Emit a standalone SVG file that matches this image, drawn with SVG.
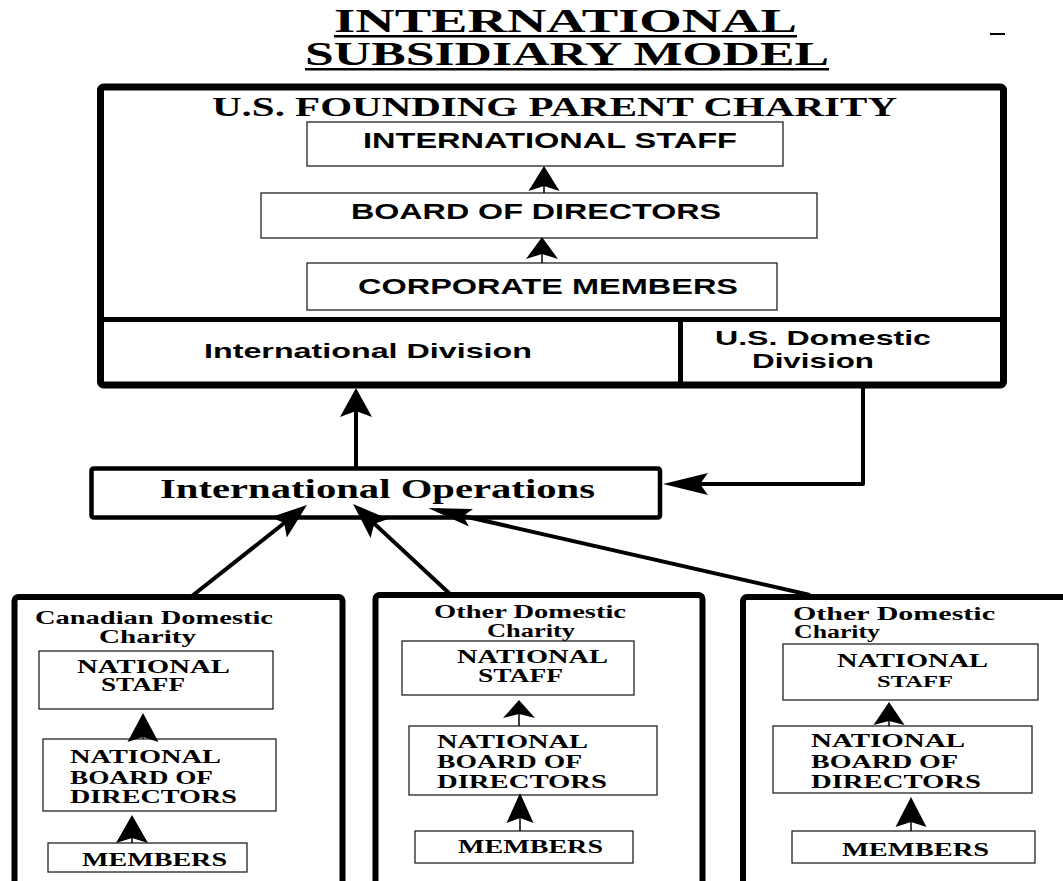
<svg xmlns="http://www.w3.org/2000/svg" width="1063" height="881" viewBox="0 0 1063 881">
<style>
.ser{font-family:"Liberation Serif","Times New Roman",serif;font-weight:bold;fill:#000}
.san{font-family:"Liberation Sans",Arial,sans-serif;font-weight:bold;fill:#000}
.lab{font-size:18px}
.box{font-size:18.5px}
.thick{fill:none;stroke:#000;stroke-width:6;stroke-linejoin:round}
.thin{fill:#fff;stroke:#222;stroke-width:1.3}
.conn{fill:none;stroke:#000;stroke-width:4}
.stem{fill:none;stroke:#000;stroke-width:1.5}
.head{fill:#000;stroke:none}
</style>
<defs>
<marker id="mBig" markerUnits="userSpaceOnUse" viewBox="-30 -17 31 34" markerWidth="31" markerHeight="34" refX="-8" refY="0" orient="auto"><path d="M0,0 L-29,-16 L-23,0 L-29,16 Z" fill="#000"/></marker>
<marker id="mHorz" markerUnits="userSpaceOnUse" viewBox="-46 -12 47 24" markerWidth="47" markerHeight="24" refX="-8" refY="0" orient="auto"><path d="M0,0 L-45,-11 L-37,0 L-45,11 Z" fill="#000"/></marker>
<marker id="mDiag" markerUnits="userSpaceOnUse" viewBox="-37 -14 38 28" markerWidth="38" markerHeight="28" refX="-8" refY="0" orient="auto"><path d="M0,0 L-36,-13 L-29,0 L-36,13 Z" fill="#000"/></marker>
<marker id="mDiag3" markerUnits="userSpaceOnUse" viewBox="-45 -10 46 20" markerWidth="46" markerHeight="20" refX="-10" refY="0" orient="auto"><path d="M0,0 L-44,-9 L-36,0 L-44,9 Z" fill="#000"/></marker>
</defs>

<g id="title">
<text class="ser" x="334" y="32" font-size="33" textLength="463" lengthAdjust="spacingAndGlyphs">INTERNATIONAL</text>
<rect x="334" y="35" width="463" height="2.5" fill="#000"/>
<text class="ser" x="305" y="65" font-size="33" textLength="524" lengthAdjust="spacingAndGlyphs">SUBSIDIARY MODEL</text>
<rect x="305" y="68" width="524" height="2.5" fill="#000"/>
<rect x="990" y="33" width="15" height="2" fill="#000"/>
</g>

<g id="parent">
<rect class="thick" x="100.5" y="87" width="903" height="298" rx="3" style="stroke-width:7"/>
<line x1="100" y1="319.5" x2="1003" y2="319.5" stroke="#000" stroke-width="5"/>
<line x1="680.5" y1="319.5" x2="680.5" y2="385" stroke="#000" stroke-width="5"/>
<text class="ser" x="212" y="116" font-size="27" textLength="685" lengthAdjust="spacingAndGlyphs">U.S. FOUNDING PARENT CHARITY</text>
</g>

<g id="intl-staff">
<rect class="thin" x="307" y="122" width="476" height="44"/>
<text class="san" x="363" y="148" font-size="22" textLength="374" lengthAdjust="spacingAndGlyphs">INTERNATIONAL STAFF</text>
</g>
<g id="board">
<rect class="thin" x="261" y="193" width="556" height="45"/>
<text class="san" x="351" y="219" font-size="22" textLength="370" lengthAdjust="spacingAndGlyphs">BOARD OF DIRECTORS</text>
</g>
<g id="corp-members">
<rect class="thin" x="307" y="263" width="470" height="47"/>
<text class="san" x="358" y="294" font-size="22" textLength="380" lengthAdjust="spacingAndGlyphs">CORPORATE MEMBERS</text>
</g>
<g id="intl-division">
<text class="san" x="204" y="358" font-size="21" textLength="328" lengthAdjust="spacingAndGlyphs">International Division</text>
</g>
<g id="us-division">
<text class="san" x="715" y="345" font-size="21" textLength="216" lengthAdjust="spacingAndGlyphs">U.S. Domestic</text>
<text class="san" x="752" y="368" font-size="21" textLength="122" lengthAdjust="spacingAndGlyphs">Division</text>
</g>

<g id="intl-operations">
<rect x="91.5" y="468.5" width="568.5" height="49" rx="2" fill="#fff" stroke="#000" stroke-width="4.5"/>
<text class="ser" x="160" y="498" font-size="28" textLength="435" lengthAdjust="spacingAndGlyphs">International Operations</text>
</g>

<g id="canadian">
<rect class="thick" x="14.5" y="597" width="328" height="292" rx="4"/>
<text class="ser lab" x="35" y="623.5" textLength="238" lengthAdjust="spacingAndGlyphs">Canadian Domestic</text>
<text class="ser lab" x="99" y="642.5" textLength="97" lengthAdjust="spacingAndGlyphs">Charity</text>
<rect class="thin" x="39" y="651" width="234" height="58"/>
<text class="ser box" x="77" y="673" textLength="153" lengthAdjust="spacingAndGlyphs">NATIONAL</text>
<text class="ser box" x="101" y="691" textLength="84" lengthAdjust="spacingAndGlyphs">STAFF</text>
<rect class="thin" x="43" y="739" width="233" height="72"/>
<text class="ser box" x="70" y="763" textLength="151" lengthAdjust="spacingAndGlyphs">NATIONAL</text>
<text class="ser box" x="70" y="784" textLength="143" lengthAdjust="spacingAndGlyphs">BOARD OF</text>
<text class="ser box" x="70" y="803" textLength="167" lengthAdjust="spacingAndGlyphs">DIRECTORS</text>
<rect class="thin" x="48" y="843" width="199" height="29"/>
<text class="ser box" x="82" y="866" textLength="145" lengthAdjust="spacingAndGlyphs">MEMBERS</text>
</g>

<g id="other1">
<rect class="thick" x="375.5" y="595" width="327" height="294" rx="4"/>
<text class="ser lab" x="434" y="618" textLength="192" lengthAdjust="spacingAndGlyphs">Other Domestic</text>
<text class="ser lab" x="487" y="637" textLength="88" lengthAdjust="spacingAndGlyphs">Charity</text>
<rect class="thin" x="402" y="641" width="232" height="54"/>
<text class="ser box" x="457" y="663" textLength="151" lengthAdjust="spacingAndGlyphs">NATIONAL</text>
<text class="ser box" x="478" y="682" textLength="85" lengthAdjust="spacingAndGlyphs">STAFF</text>
<rect class="thin" x="409" y="726" width="248" height="69"/>
<text class="ser box" x="437" y="748" textLength="151" lengthAdjust="spacingAndGlyphs">NATIONAL</text>
<text class="ser box" x="437" y="768" textLength="145" lengthAdjust="spacingAndGlyphs">BOARD OF</text>
<text class="ser box" x="437" y="788" textLength="170" lengthAdjust="spacingAndGlyphs">DIRECTORS</text>
<rect class="thin" x="415" y="831" width="218" height="32"/>
<text class="ser box" x="458" y="853" textLength="145" lengthAdjust="spacingAndGlyphs">MEMBERS</text>
</g>

<g id="other2">
<rect class="thick" x="743" y="597" width="340" height="292" rx="4"/>
<text class="ser lab" x="793" y="620" textLength="202" lengthAdjust="spacingAndGlyphs">Other Domestic</text>
<text class="ser lab" x="794" y="638" textLength="86" lengthAdjust="spacingAndGlyphs">Charity</text>
<rect class="thin" x="783" y="644" width="255" height="56"/>
<text class="ser box" x="837" y="667" textLength="151" lengthAdjust="spacingAndGlyphs">NATIONAL</text>
<text class="ser" x="877" y="687" font-size="17.5" textLength="76" lengthAdjust="spacingAndGlyphs">STAFF</text>
<rect class="thin" x="773" y="726" width="259" height="67"/>
<text class="ser box" x="811" y="747" textLength="154" lengthAdjust="spacingAndGlyphs">NATIONAL</text>
<text class="ser box" x="811" y="768" textLength="147" lengthAdjust="spacingAndGlyphs">BOARD OF</text>
<text class="ser box" x="811" y="788" textLength="170" lengthAdjust="spacingAndGlyphs">DIRECTORS</text>
<rect class="thin" x="792" y="831" width="243" height="32"/>
<text class="ser box" x="842" y="856" textLength="147" lengthAdjust="spacingAndGlyphs">MEMBERS</text>
</g>

<g id="connectors">
<line class="conn" x1="356" y1="467" x2="356" y2="396" marker-end="url(#mBig)"/>
<polyline class="conn" points="863,387 863,484 671,484" stroke-linejoin="round" marker-end="url(#mHorz)"/>
<line class="conn" x1="192" y1="596" x2="300.7" y2="510" marker-end="url(#mDiag)"/>
<line class="conn" x1="450" y1="594" x2="358.9" y2="509.4" marker-end="url(#mDiag)"/>
<line class="conn" x1="810" y1="595" x2="437.8" y2="510.2" marker-end="url(#mDiag3)"/>
<line class="stem" x1="544" y1="193" x2="544" y2="180"/>
<path class="head" d="M544,166 L528.5,191 L544,186 L559.5,191 Z"/>
<line class="stem" x1="542" y1="263" x2="542" y2="250"/>
<path class="head" d="M542,237 L526,259 L542,254 L558,259 Z"/>
<line class="stem" x1="143" y1="739" x2="143" y2="730"/>
<path class="head" d="M143,713 L127.5,742 L143,737 L158.5,742 Z"/>
<line class="stem" x1="132" y1="843" x2="132" y2="832"/>
<path class="head" d="M132,815 L116,843 L132,838 L148,843 Z"/>
<line class="stem" x1="519" y1="726" x2="519" y2="710"/>
<path class="head" d="M519,700 L503,718 L519,714 L535,718 Z"/>
<line class="stem" x1="520" y1="831" x2="520" y2="810"/>
<path class="head" d="M520,793 L506.5,823 L520,818 L533.5,823 Z"/>
<line class="stem" x1="889" y1="726" x2="889" y2="714"/>
<path class="head" d="M889,702 L873.5,725 L889,721 L904.5,725 Z"/>
<line class="stem" x1="911" y1="831" x2="911" y2="812"/>
<path class="head" d="M911,797 L895.5,827 L911,822 L926.5,827 Z"/>
</g>
</svg>
